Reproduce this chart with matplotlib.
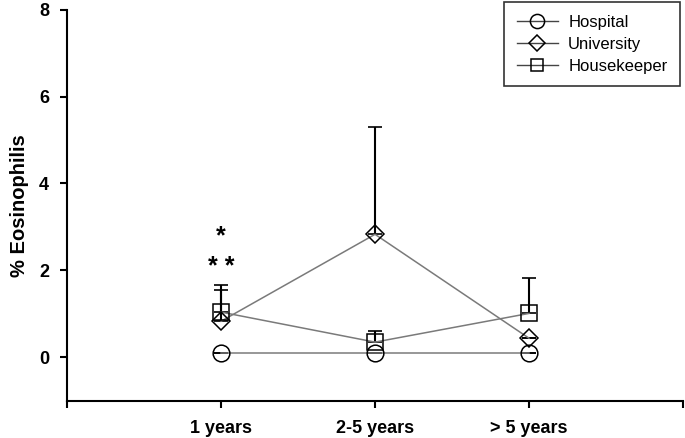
import numpy as np
import matplotlib
matplotlib.use('Agg')
import matplotlib.pyplot as plt

plt.rcParams['font.family'] = ['Liberation Sans', 'DejaVu Sans']

groups = ['1 years', '2-5 years', '> 5 years']
x = [1, 2, 3]

hospital = [0.1, 0.1, 0.1]
hospital_err = [0.0, 0.0, 0.0]
university = [0.83, 2.83, 0.44]
university_err = [0.72, 2.47, 0.0]
housekeeper = [1.04, 0.35, 1.01]
housekeeper_err = [0.62, 0.25, 0.81]

fig = plt.figure(figsize=(6.85, 4.38), dpi=100)
ax = fig.add_axes([0.098, 0.085, 0.899, 0.893])

series = [
    ('Hospital', hospital, hospital_err, 'o', 12),
    ('University', university, university_err, 'D', 9),
    ('Housekeeper', housekeeper, housekeeper_err, 's', 11),
]

for name, vals, err, mk, ms in series:
    lower = np.zeros(len(err))
    ax.errorbar(x, vals, yerr=[lower, err], fmt='none', ecolor='black',
                elinewidth=1.5, capsize=4.7, capthick=1.2, zorder=2)
    ax.plot(x, vals, color='#7a7a7a', lw=1.1, zorder=3)
    ax.plot(x, vals, linestyle='none', marker=mk, markersize=ms,
            markerfacecolor='none', markeredgecolor='black',
            markeredgewidth=1.1, zorder=4)
    # legend handle
    ax.plot([], [], color='#444444', lw=1.0, marker=mk, markersize=ms,
            markerfacecolor='none', markeredgecolor='black',
            markeredgewidth=1.1, label=name)

ax.text(1, 2.78, '*', ha='center', va='center', fontsize=18, fontweight='bold')
ax.text(1, 2.08, '* *', ha='center', va='center', fontsize=18, fontweight='bold')

ax.set_xlim(0, 4)
ax.set_ylim(-1, 8)
ax.set_xticks([0, 1, 2, 3, 4])
ax.set_xticklabels(['', groups[0], groups[1], groups[2], ''])
ax.set_yticks([0, 2, 4, 6, 8])
ax.tick_params(direction='out', length=5, width=1.5, labelsize=13)
for lab in ax.get_xticklabels() + ax.get_yticklabels():
    lab.set_fontweight('bold')
ax.tick_params(axis='x', pad=9)
ax.tick_params(axis='y', pad=8)

ax.spines['top'].set_visible(False)
ax.spines['right'].set_visible(False)
ax.spines['left'].set_linewidth(1.5)
ax.spines['bottom'].set_linewidth(1.5)

ax.set_ylabel('% Eosinophilis', fontsize=14.5, fontweight='bold', labelpad=7)

leg = ax.legend(loc='upper right', bbox_to_anchor=(680 / 685, 1 - 2 / 438),
                bbox_transform=fig.transFigure, borderaxespad=0,
                fontsize=12, frameon=True, fancybox=False, edgecolor='black',
                handlelength=2.5, handletextpad=0.6, borderpad=0.75,
                labelspacing=0.42, markerscale=0.85)
leg.get_frame().set_linewidth(1.2)

fig.savefig('out.png', dpi=100)
